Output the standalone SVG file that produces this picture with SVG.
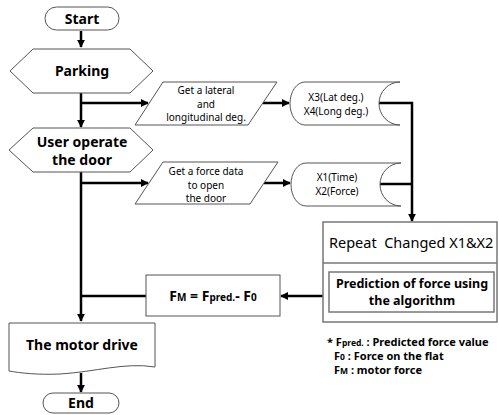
<svg xmlns="http://www.w3.org/2000/svg" width="499" height="415" viewBox="0 0 499 415">
<style>
.shape{fill:#fff;stroke:#555;stroke-width:1}
.box{fill:#fff;stroke:#777;stroke-width:1.5}
.conn{fill:none;stroke:#000;stroke-width:2.5}
text{font-family:"Noto Sans","Liberation Sans",sans-serif;fill:#000;text-anchor:middle}
.big{font-size:14px;font-weight:bold}
.small{font-size:10px}
.mid{font-size:14.5px}
.pred{font-size:12.5px;font-weight:bold}
.note{font-size:11px;font-weight:bold;text-anchor:start}
</style>
<defs>
<marker id="ah" viewBox="0 0 10 10" refX="9" refY="5" markerWidth="3.2" markerHeight="3.2" orient="auto" markerUnits="strokeWidth">
<path d="M0,0 L10,5 L0,10 Z" fill="#000"/>
</marker>
</defs>
<g id="connectors">
<path class="conn" d="M81,31 V47" marker-end="url(#ah)"/>
<path class="conn" d="M81,93 V127" marker-end="url(#ah)"/>
<path class="conn" d="M81,103 H148" marker-end="url(#ah)"/>
<path class="conn" d="M263,103 H289" marker-end="url(#ah)"/>
<path class="conn" d="M379,103 H412 V221" marker-end="url(#ah)"/>
<path class="conn" d="M81,172 V321" marker-end="url(#ah)"/>
<path class="conn" d="M81,183 H148" marker-end="url(#ah)"/>
<path class="conn" d="M264,183 H290" marker-end="url(#ah)"/>
<path class="conn" d="M380,184 H412"/>
<path class="conn" d="M329,296 H281" marker-end="url(#ah)"/>
<path class="conn" d="M146,296 H81"/>
<path class="conn" d="M81,373 V392" marker-end="url(#ah)"/>
</g>
<g id="start">
<rect class="shape" x="45" y="7" width="74" height="23" rx="11.5"/>
<text class="big" x="82" y="24">Start</text>
</g>
<g id="parking">
<polygon class="shape" points="10,71 33,49 130,49 153,71 130,93 33,93"/>
<text class="big" x="82" y="76">Parking</text>
</g>
<g id="get-deg">
<polygon class="shape" points="163,82 277,82 248,125 135,125"/>
<text class="small" x="206" y="94">Get a lateral</text>
<text class="small" x="206" y="107.5">and</text>
<text class="small" x="206" y="121">longitudinal deg.</text>
</g>
<g id="data-deg">
<path class="shape" d="M305,82 L400,82 A21,21.5 0 0 0 400,125 L305,125 A15,21.5 0 0 1 305,82 Z"/>
<text class="small" x="336" y="101">X3(Lat deg.)</text>
<text class="small" x="336" y="115">X4(Long deg.)</text>
</g>
<g id="user">
<polygon class="shape" points="9,150 33,128 130,128 153,150 130,172 33,172"/>
<text class="big" x="82" y="147">User operate</text>
<text class="big" x="82" y="165">the door</text>
</g>
<g id="get-force">
<polygon class="shape" points="163,162 278,162 250,204 135,204"/>
<text class="small" x="206" y="175">Get a force data</text>
<text class="small" x="206" y="188.5">to open</text>
<text class="small" x="206" y="202">the door</text>
</g>
<g id="data-force">
<path class="shape" d="M306,163 L401,163 A21,21.5 0 0 0 401,206 L306,206 A15,21.5 0 0 1 306,163 Z"/>
<text class="small" x="337" y="181">X1(Time)</text>
<text class="small" x="337" y="195">X2(Force)</text>
</g>
<g id="repeat">
<rect class="box" x="323" y="222" width="174" height="100"/>
<line x1="323" y1="263" x2="497" y2="263" stroke="#777" stroke-width="1.5"/>
<text class="mid" x="329" y="248" style="text-anchor:start">Repeat&#160; Changed X1&amp;X2</text>
</g>
<g id="prediction">
<rect class="box" x="329" y="272" width="165" height="40"/>
<text class="pred" x="412" y="288">Prediction of force using</text>
<text class="pred" x="412" y="305">the algorithm</text>
</g>
<g id="formula">
<rect class="shape" x="146" y="275" width="134" height="41"/>
<text x="213" y="301" style="font-size:14px;font-weight:bold">F<tspan style="font-size:10px">M</tspan> = F<tspan style="font-size:10px">pred.</tspan>- F<tspan style="font-size:10px">0</tspan></text>
</g>
<g id="motor">
<path class="shape" d="M9,323 H155 V367 C125,362 95,372 60,374 C38,375 20,373 9,371 Z"/>
<text class="big" x="82" y="350">The motor drive</text>
</g>
<g id="end">
<rect class="shape" x="43" y="393" width="76" height="20" rx="10"/>
<text class="big" x="81" y="408">End</text>
</g>
<g id="note">
<text class="note" x="327" y="346">* F<tspan style="font-size:8.5px">pred.</tspan> : Predicted force value</text>
<text class="note" x="334" y="360">F<tspan style="font-size:8.5px">0</tspan> : Force on the flat</text>
<text class="note" x="334" y="374">F<tspan style="font-size:8.5px">M</tspan> : motor force</text>
</g>
</svg>
